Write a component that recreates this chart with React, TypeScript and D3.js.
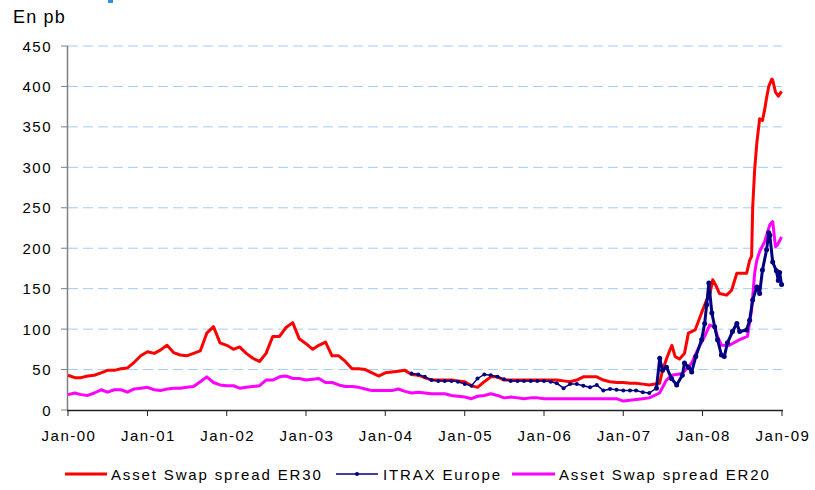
import React, { useEffect, useRef } from "react";
import * as d3 from "d3";

// monthly points (first of month) until May 2007, then denser readings
const er30Start = "2000-01-01";
const er30Monthly = [
  43, 40, 40, 42, 43, 46, 49, 49, 51, 52, 59, 67,
  72, 70, 74, 80, 71, 68, 67, 70, 73, 95, 103, 83,
  80, 75, 78, 70, 64, 60, 70, 91, 91, 102, 108, 88,
  82, 75, 80, 84, 67, 67, 60, 51, 51, 50, 46, 42,
  46, 47, 48, 49, 44, 43, 40, 37, 37, 37, 37, 36,
  35, 30, 28, 35, 41, 41, 37, 37, 37, 37, 37, 37,
  37, 37, 37, 36, 35, 37, 41, 41, 41, 37, 35, 34,
  34, 33, 33, 32, 31,
];
const er30Dense: [string, number][] = [
  ["2007-06-17", 33], ["2007-07-01", 49], ["2007-07-23", 66], ["2007-08-13", 80],
  ["2007-08-28", 66], ["2007-09-17", 63], ["2007-10-10", 70], ["2007-10-28", 95],
  ["2007-11-28", 99], ["2008-01-02", 124], ["2008-01-20", 136], ["2008-02-03", 142],
  ["2008-02-17", 161], ["2008-03-06", 152], ["2008-03-19", 144], ["2008-04-21", 142],
  ["2008-05-14", 148], ["2008-06-07", 169], ["2008-07-22", 169], ["2008-08-05", 185],
  ["2008-08-14", 190], ["2008-08-19", 250], ["2008-08-28", 297], ["2008-09-07", 330],
  ["2008-09-20", 360], ["2008-10-03", 358], ["2008-10-13", 371], ["2008-10-22", 386],
  ["2008-11-01", 400], ["2008-11-15", 409], ["2008-11-19", 408], ["2008-12-02", 393],
  ["2008-12-15", 388], ["2008-12-30", 394],
];

const itraxStart = "2004-05-01";
const itraxMonthly = [
  45, 44, 41, 37, 36, 36, 36, 35,
  32, 30, 39, 44, 43, 41, 38, 36, 36, 36, 36, 36,
  36, 35, 33, 27, 32, 32, 30, 28, 31, 24, 26, 25,
  24, 24, 24, 22, 21,
];
const itraxDense: [string, number][] = [
  ["2007-06-03", 27], ["2007-06-18", 64], ["2007-07-01", 49], ["2007-07-19", 53],
  ["2007-08-11", 39], ["2007-09-04", 31], ["2007-09-30", 43], ["2007-10-10", 58],
  ["2007-10-28", 53], ["2007-11-12", 47], ["2007-12-01", 66], ["2007-12-28", 87],
  ["2008-01-11", 107], ["2008-01-20", 130], ["2008-01-30", 157], ["2008-02-13", 120],
  ["2008-02-26", 103], ["2008-03-10", 87], ["2008-03-28", 68], ["2008-04-10", 66],
  ["2008-04-25", 83], ["2008-05-18", 97], ["2008-06-07", 107], ["2008-06-20", 97],
  ["2008-07-22", 99], ["2008-08-05", 111], ["2008-08-19", 136], ["2008-09-07", 152],
  ["2008-09-20", 144], ["2008-10-03", 173], ["2008-10-22", 198], ["2008-11-01", 219],
  ["2008-11-06", 216], ["2008-11-19", 183], ["2008-12-06", 172], ["2008-12-15", 160],
  ["2008-12-21", 170], ["2008-12-30", 155],
];

const er20Start = "2000-01-01";
const er20Monthly = [
  19, 21, 19, 18, 21, 25, 22, 25, 25, 22, 26, 27,
  28, 25, 24, 26, 27, 27, 28, 29, 35, 41, 34, 31,
  30, 30, 27, 28, 29, 30, 37, 37, 41, 42, 39, 39,
  37, 38, 39, 34, 34, 31, 29, 29, 28, 26, 24, 24,
  24, 24, 26, 23, 21, 22, 21, 20, 20, 20, 18, 17,
  16, 14, 17, 18, 20, 18, 15, 16, 15, 14, 15, 15,
  14, 14, 14, 14, 14, 14, 14, 14, 14, 14, 14, 14,
  11, 12, 13, 14, 15,
];
const er20Dense: [string, number][] = [
  ["2007-06-17", 21], ["2007-07-19", 37], ["2007-08-11", 43], ["2007-09-30", 45],
  ["2007-11-12", 58], ["2007-12-09", 74], ["2008-01-11", 91], ["2008-02-03", 105],
  ["2008-02-26", 103], ["2008-03-10", 91], ["2008-03-28", 80], ["2008-05-04", 80],
  ["2008-06-20", 87], ["2008-07-26", 91], ["2008-08-14", 124], ["2008-08-28", 169],
  ["2008-09-07", 185], ["2008-09-20", 196], ["2008-10-13", 208], ["2008-11-06", 229],
  ["2008-11-19", 233], ["2008-12-02", 202], ["2008-12-11", 204], ["2008-12-30", 214],
];

const yTicks = [0, 50, 100, 150, 200, 250, 300, 350, 400, 450];

type Pt = { date: Date; value: number };

export default function App() {
  const svgRef = useRef<SVGSVGElement>(null);

  useEffect(() => {
    drawChart();
  }, []);

  function drawChart() {
    const font = "'Liberation Sans', Arial, sans-serif";

    const parse = d3.timeParse("%Y-%m-%d");
    const build = (start: string, monthly: number[], dense: [string, number][]): Pt[] => {
      const s = parse(start)!;
      const a = monthly.map((v, i) => ({ date: d3.timeMonth.offset(s, i), value: v }));
      const b = dense.map(([d, v]) => ({ date: parse(d)!, value: v }));
      return a.concat(b);
    };

    const er30 = build(er30Start, er30Monthly, er30Dense);
    const itrax = build(itraxStart, itraxMonthly, itraxDense);
    const er20 = build(er20Start, er20Monthly, er20Dense);

    const x = d3
      .scaleTime()
      .domain([new Date(2000, 0, 1), new Date(2009, 0, 1)])
      .range([68, 782]);
    const y = d3.scaleLinear().domain([0, 450]).range([410, 46]);

    const svg = d3.select(svgRef.current);
    svg.selectAll("*").remove();

    // cut-off title fragment at the very top
    svg.append("rect").attr("x", 108).attr("y", 0).attr("width", 5).attr("height", 3).attr("fill", "#3d8ed8");

    svg
      .append("text")
      .attr("x", 13)
      .attr("y", 23)
      .attr("font-family", font)
      .attr("font-size", 18)
      .attr("letter-spacing", 1.2)
      .attr("fill", "#000")
      .text("En pb");

    // gridlines
    svg
      .append("g")
      .selectAll("line")
      .data(yTicks.filter((d) => d > 0))
      .join("line")
      .attr("x1", 68)
      .attr("x2", 782)
      .attr("y1", (d) => y(d))
      .attr("y2", (d) => y(d))
      .attr("stroke", "#9fcdfa")
      .attr("stroke-width", 1)
      .attr("stroke-dasharray", "10,5");

    // y axis
    const yAxis = svg.append("g");
    yAxis.append("line").attr("x1", 67.5).attr("x2", 67.5).attr("y1", 46).attr("y2", 410).attr("stroke", "#808080").attr("stroke-width", 1.5);
    yAxis
      .selectAll("line.tick")
      .data(yTicks)
      .join("line")
      .attr("class", "tick")
      .attr("x1", 61)
      .attr("x2", 68)
      .attr("y1", (d) => y(d))
      .attr("y2", (d) => y(d))
      .attr("stroke", "#808080");
    yAxis
      .selectAll("text")
      .data(yTicks)
      .join("text")
      .attr("x", 52)
      .attr("y", (d) => y(d) + 5.5)
      .attr("text-anchor", "end")
      .attr("font-family", font)
      .attr("font-size", 15)
      .attr("letter-spacing", 1.5)
      .text((d) => d);

    // x axis
    const xTicks = x.ticks(d3.timeYear.every(1)!);
    const xAxis = svg.append("g");
    xAxis.append("line").attr("x1", 67).attr("x2", 783).attr("y1", 410.5).attr("y2", 410.5).attr("stroke", "#222").attr("stroke-width", 1.5);
    xAxis
      .selectAll("line.tick")
      .data(xTicks)
      .join("line")
      .attr("class", "tick")
      .attr("x1", (d) => x(d))
      .attr("x2", (d) => x(d))
      .attr("y1", 410)
      .attr("y2", 416)
      .attr("stroke", "#222");
    xAxis
      .selectAll("text")
      .data(xTicks)
      .join("text")
      .attr("x", (d) => x(d) + 1)
      .attr("y", 441)
      .attr("text-anchor", "middle")
      .attr("font-family", font)
      .attr("font-size", 15)
      .attr("letter-spacing", 1.5)
      .text((d) => d3.timeFormat("%b-%y")(d));

    const line = d3
      .line<Pt>()
      .x((d) => x(d.date))
      .y((d) => y(d.value));

    svg.append("path").datum(er30).attr("d", line).attr("fill", "none").attr("stroke", "#ff0000").attr("stroke-width", 3).attr("stroke-linejoin", "round");
    svg.append("path").datum(er20).attr("d", line).attr("fill", "none").attr("stroke", "#ff00ff").attr("stroke-width", 3).attr("stroke-linejoin", "round");
    svg.append("path").datum(itrax).attr("d", line).attr("fill", "none").attr("stroke", "#000080").attr("stroke-width", 1.5);
    // daily quotes from mid-2007 make a thick beaded trace
    svg
      .append("path")
      .datum(itrax.filter((d) => d.date >= new Date(2007, 5, 1)))
      .attr("d", line)
      .attr("fill", "none")
      .attr("stroke", "#000080")
      .attr("stroke-width", 3)
      .attr("stroke-linejoin", "round");
    svg
      .append("g")
      .selectAll("circle")
      .data(itrax)
      .join("circle")
      .attr("cx", (d) => x(d.date))
      .attr("cy", (d) => y(d.value))
      .attr("r", (d) => (d.date >= new Date(2007, 5, 1) ? 2.5 : 2))
      .attr("fill", "#000080");

    // legend
    const legend = [
      { label: "Asset Swap spread ER30", color: "#ff0000", w: 3, x0: 65, x1: 107, tx: 111, marker: false },
      { label: "ITRAX Europe", color: "#000080", w: 1.5, x0: 336, x1: 378, tx: 383, marker: true },
      { label: "Asset Swap spread ER20", color: "#ff00ff", w: 3, x0: 512, x1: 555, tx: 559, marker: false },
    ];
    const lg = svg.append("g").selectAll("g").data(legend).join("g");
    lg.append("line")
      .attr("x1", (d) => d.x0)
      .attr("x2", (d) => d.x1)
      .attr("y1", 474)
      .attr("y2", 474)
      .attr("stroke", (d) => d.color)
      .attr("stroke-width", (d) => d.w);
    lg.filter((d) => d.marker)
      .append("circle")
      .attr("cx", (d) => (d.x0 + d.x1) / 2)
      .attr("cy", 474)
      .attr("r", 2)
      .attr("fill", (d) => d.color);
    lg.append("text")
      .attr("x", (d) => d.tx)
      .attr("y", 479.5)
      .attr("font-family", font)
      .attr("font-size", 15)
      .attr("letter-spacing", 1.85)
      .text((d) => d.label);
  }

  return (
    <div>
      <svg
        ref={svgRef}
        width={815}
        height={490}
        style={{ position: "absolute", left: 0, top: 0, background: "#fff" }}
      />
    </div>
  );
}
